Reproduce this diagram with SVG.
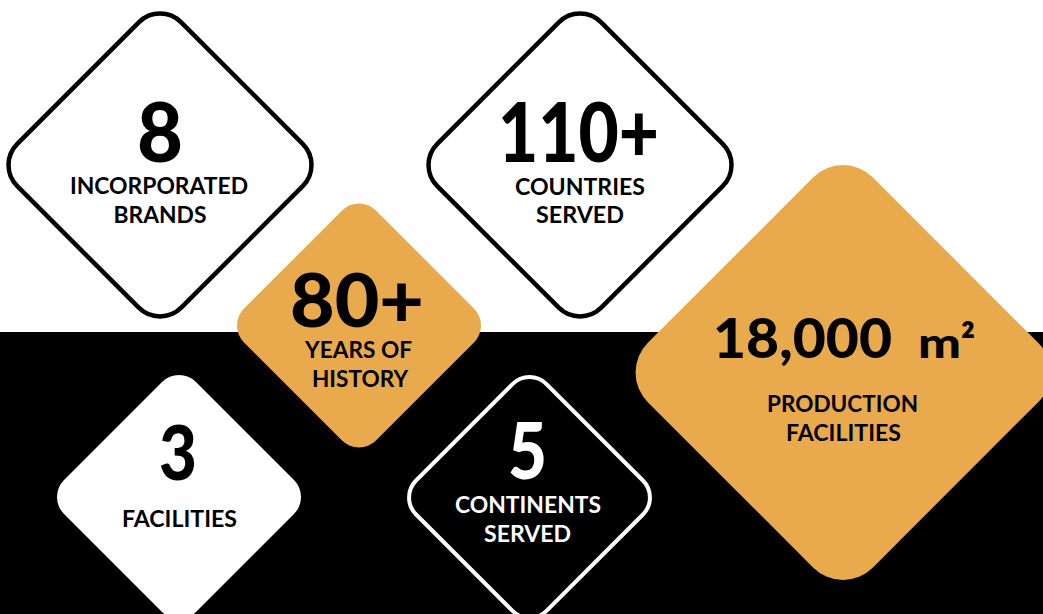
<svg xmlns="http://www.w3.org/2000/svg" width="1043" height="614" viewBox="0 0 1043 614">
  <style>
    .num { font-family: Lato, "Open Sans", "Liberation Sans", sans-serif; font-weight: 900; text-anchor: middle; fill: #000; }
    .lbl { font-family: Lato, "Open Sans", "Liberation Sans", sans-serif; font-weight: 700; font-size: 23px; text-anchor: middle; fill: #000; }
    .w { fill: #fff; }
    .gold { fill: #E8AA4C; }
  </style>
  <rect x="0" y="0" width="1043" height="614" fill="#fff"/>
  <rect x="0" y="332" width="1043" height="282" fill="#000"/>

  <g id="node-brands">
    <rect x="-115.9" y="-115.9" width="231.8" height="231.8" rx="30" fill="#fff" stroke="#000" stroke-width="4.5" transform="translate(160 165) rotate(45)"/>
    <text class="num" x="160" y="162" font-size="82" textLength="46" lengthAdjust="spacingAndGlyphs">8</text>
    <text class="lbl" x="159" y="194" textLength="178" lengthAdjust="spacingAndGlyphs">INCORPORATED</text>
    <text class="lbl" x="160" y="223" textLength="93" lengthAdjust="spacingAndGlyphs">BRANDS</text>
  </g>

  <g id="node-countries">
    <rect x="-115.9" y="-115.9" width="231.8" height="231.8" rx="30" fill="#fff" stroke="#000" stroke-width="4.5" transform="translate(580 165) rotate(45)"/>
    <text class="num" x="578.5" y="162" font-size="82" textLength="161" lengthAdjust="spacingAndGlyphs">110+</text>
    <text class="lbl" x="580" y="195" textLength="130" lengthAdjust="spacingAndGlyphs">COUNTRIES</text>
    <text class="lbl" x="580" y="223" textLength="88" lengthAdjust="spacingAndGlyphs">SERVED</text>
  </g>

  <g id="node-history">
    <rect class="gold" x="-93.3" y="-93.3" width="186.6" height="186.6" rx="24" transform="translate(359 325.5) rotate(45)"/>
    <text class="num" x="357" y="327" font-size="74" textLength="134" lengthAdjust="spacingAndGlyphs">80+</text>
    <text class="lbl" x="358.5" y="358" textLength="107" lengthAdjust="spacingAndGlyphs">YEARS OF</text>
    <text class="lbl" x="360" y="387" textLength="96" lengthAdjust="spacingAndGlyphs">HISTORY</text>
  </g>

  <g id="node-facilities">
    <rect x="-93.3" y="-93.3" width="186.6" height="186.6" rx="24" fill="#fff" transform="translate(179 497) rotate(45)"/>
    <text class="num" x="178" y="480" font-size="76" textLength="38" lengthAdjust="spacingAndGlyphs">3</text>
    <text class="lbl" x="179.5" y="527" textLength="115" lengthAdjust="spacingAndGlyphs">FACILITIES</text>
  </g>

  <g id="node-continents">
    <rect x="-92.2" y="-92.2" width="184.4" height="184.4" rx="24" fill="#000" stroke="#fff" stroke-width="4" transform="translate(529.5 497.5) rotate(45)"/>
    <text class="num w" x="527.5" y="479" font-size="78" textLength="39" lengthAdjust="spacingAndGlyphs">5</text>
    <text class="lbl w" x="528" y="513" textLength="146" lengthAdjust="spacingAndGlyphs">CONTINENTS</text>
    <text class="lbl w" x="527.5" y="542" textLength="87" lengthAdjust="spacingAndGlyphs">SERVED</text>
  </g>

  <g id="node-production">
    <rect class="gold" x="-159" y="-159" width="318" height="318" rx="42" transform="translate(843 372.5) rotate(45)"/>
    <text class="num" y="358" font-size="56" style="text-anchor:start"><tspan x="713" textLength="179" lengthAdjust="spacingAndGlyphs">18,000</tspan> <tspan x="918" font-size="41" textLength="43" lengthAdjust="spacingAndGlyphs">m</tspan><tspan x="961" font-size="44" textLength="14" lengthAdjust="spacingAndGlyphs">²</tspan></text>
    <text class="lbl" x="842.5" y="412" textLength="151" lengthAdjust="spacingAndGlyphs">PRODUCTION</text>
    <text class="lbl" x="843.5" y="441" textLength="115" lengthAdjust="spacingAndGlyphs">FACILITIES</text>
  </g>

  <g id="connectors"/>
</svg>
